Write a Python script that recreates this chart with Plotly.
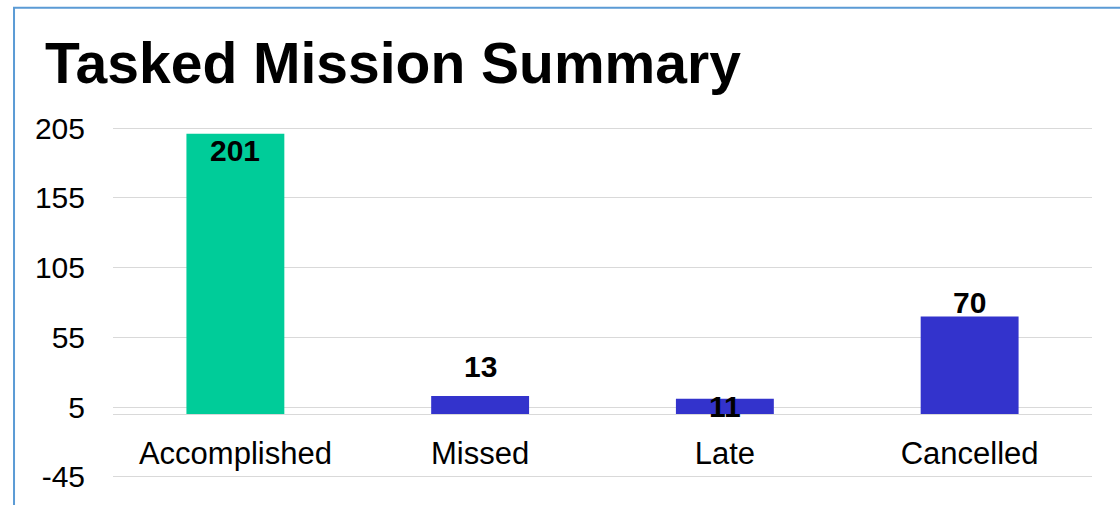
import plotly.graph_objects as go

categories = ["Accomplished", "Missed", "Late", "Cancelled"]
values = [201, 13, 11, 70]
bar_colors = ["#00CC99", "#3333CC", "#3333CC", "#3333CC"]
label_shift = [-17, 29, -8, 14]  # pixel offset of the label centre from the bar top

y_min, y_max = -45, 205
tick_vals = [205, 155, 105, 55, 5, -45]
tick_text = ["205", "155", "105", "55", "5", "-45"]
pad = 1.5

FONT = "Liberation Sans, Arial, sans-serif"

fig = go.Figure()
fig.add_trace(go.Bar(
    x=categories, y=values,
    marker=dict(color=bar_colors, line=dict(width=0)),
    width=0.4,
    hoverinfo="x+y",
))

for c, v, s in zip(categories, values, label_shift):
    fig.add_annotation(x=c, y=v, xref="x", yref="y", text=f"<b>{v}</b>",
                       showarrow=False, yanchor="middle", yshift=s,
                       font=dict(family=FONT, size=30, color="black"))

# outer border (light blue, left and top edges)
fig.add_shape(type="rect", xref="paper", yref="paper",
              x0=-0.1011, x1=1.05, y0=-0.15, y1=1.335,
              line=dict(color="#5B9BD5", width=2), fillcolor="rgba(0,0,0,0)",
              layer="below")

fig.update_layout(
    width=1120, height=505,
    margin=dict(l=113, r=28, t=126, b=24, pad=0),
    paper_bgcolor="white", plot_bgcolor="white",
    showlegend=False,
    title=dict(text="<b>Tasked Mission Summary</b>", x=45/1120, xanchor="left",
               xref="container", yref="container", y=1-63/505, yanchor="middle",
               font=dict(family=FONT, size=57, color="black")),
    font=dict(family=FONT, size=30, color="black"),
    xaxis=dict(anchor="free",
               position=(0 - (y_min - pad)) / ((y_max + pad) - (y_min - pad)),
               showline=False, showgrid=False, ticks="outside", ticklen=12,
               tickcolor="white", tickfont=dict(size=31, color="black")),
    yaxis=dict(range=[y_min - pad, y_max + pad], tickmode="array",
               tickvals=tick_vals, ticktext=tick_text,
               showgrid=True, gridcolor="#D9D9D9", gridwidth=1,
               zeroline=True, zerolinecolor="#D9D9D9", zerolinewidth=1,
               ticks="outside", ticklen=21, tickcolor="white",
               tickfont=dict(size=30, color="black"), showline=False),
)

fig.write_html("out.html", config={"displayModeBar": False},
               post_script="document.body.style.margin='0';")
